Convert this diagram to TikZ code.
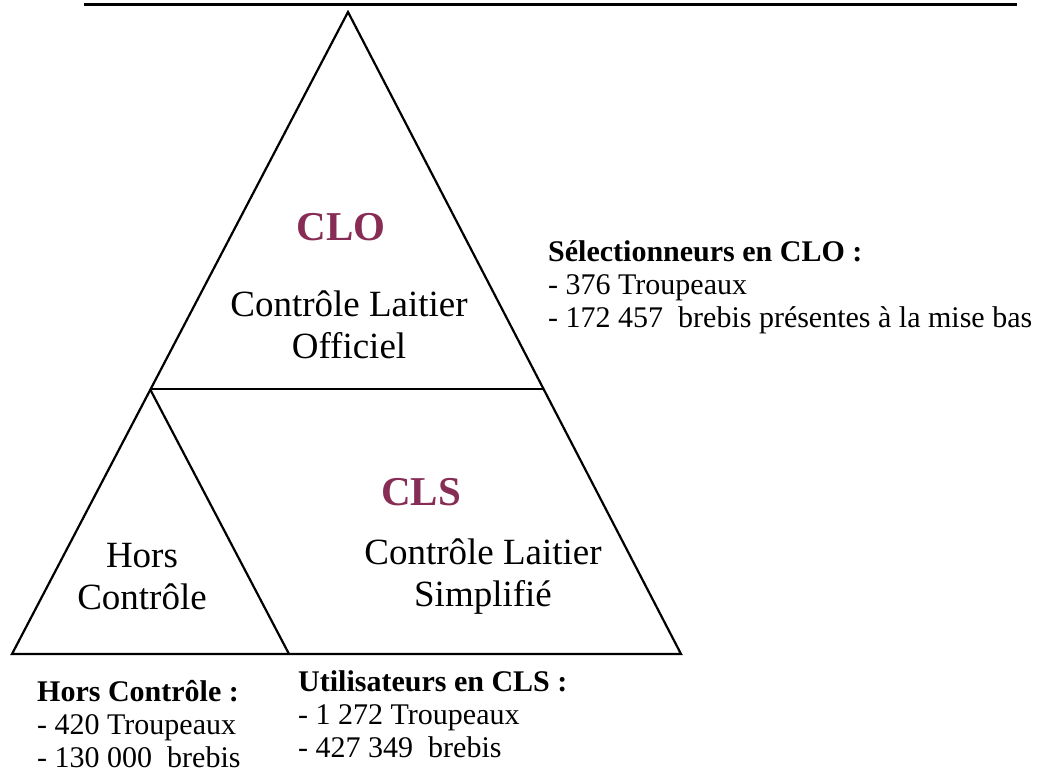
\documentclass[tikz,border=0pt]{standalone}
\usepackage{fontspec}
\setmainfont{Liberation Serif}
\usepackage{xcolor}
\usetikzlibrary{positioning,calc}

\definecolor{lait}{RGB}{135,45,85}

\begin{document}
\begin{tikzpicture}[
  x=1pt, y=-1pt,
  edge/.style={line width=2.2pt, line join=miter},
  zone/.style={align=center, inner sep=0pt, font=\fontsize{37}{42}\selectfont},
  sigle/.style={inner sep=0pt, text=lait, font=\fontsize{41}{46}\selectfont\bfseries},
  info/.style={align=left, anchor=north west, inner sep=0pt, font=\fontsize{30}{33}\selectfont}
]
\useasboundingbox (0,0) rectangle (1053,779);

% pyramid corners
\coordinate (apex) at (348,12);
\coordinate (bl) at (12,654);
\coordinate (br) at (681,654);
\coordinate (ml) at (150,389);
\coordinate (mr) at (543,389);
\coordinate (mb) at (289,654);

\draw[edge] (apex) -- (bl) -- (br) -- cycle;
\draw[edge] (ml) -- (mr);
\draw[edge] (ml) -- (mb);

% title rule, text cut off
\coordinate (tl) at (84,4);
\coordinate (tr) at (1017,4);
\draw[line width=3pt] (tl) -- (tr);

\node[sigle] (clo) at (341,227) {CLO};
\node[zone, below=98pt of clo.center, anchor=center, xshift=8pt] (offi) {Contrôle Laitier\\Officiel};
\node[sigle] (cls) at (421,492) {CLS};
\node[zone] (simp) at (483,577) {Contrôle Laitier\\Simplifié};
\node[zone] (hors) at (142,577) {Hors\\Contrôle};

\node[info] (sel) at (548,240) {\textbf{Sélectionneurs en CLO :}\\- 376 Troupeaux\\- 172 457\ \ brebis présentes à la mise bas};
\node[info] (horsc) at (37,680) {\textbf{Hors Contrôle :}\\- 420 Troupeaux\\- 130 000\ \ brebis};
\node[info] (util) at (298,670) {\textbf{Utilisateurs en CLS :}\\- 1 272 Troupeaux\\- 427 349\ \ brebis};
\end{tikzpicture}
\end{document}
